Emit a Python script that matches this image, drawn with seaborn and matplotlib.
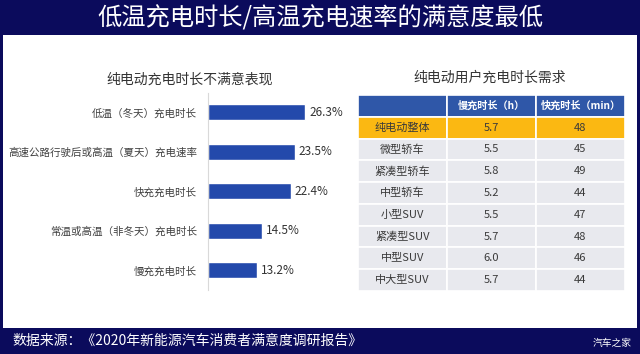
import numpy as np
import pandas as pd
import matplotlib
matplotlib.use('Agg')
import matplotlib.pyplot as plt
import seaborn as sns
from matplotlib.patches import Rectangle

sns.set_theme(style='white')
plt.rcParams['font.family'] = ['Noto Sans CJK SC', 'DejaVu Sans']

# left chart: dissatisfaction with charging time
issues = ['低温（冬天）充电时长', '高速公路行驶后或高温（夏天）充电速率', '快充充电时长',
          '常温或高温（非冬天）充电时长', '慢充充电时长']
shares = [26.3, 23.5, 22.4, 14.5, 13.2]

# right table: charging time demand
car_types = ['纯电动整体', '微型轿车', '紧凑型轿车', '中型轿车', '小型SUV', '紧凑型SUV', '中型SUV', '中大型SUV']
slow_hours = [5.7, 5.5, 5.8, 5.2, 5.5, 5.7, 6.0, 5.7]
fast_minutes = [48, 45, 49, 44, 47, 48, 46, 44]
table_header = ['', '慢充时长（h）', '快充时长（min）']

navy = '#0b0b5c'
bar_blue = '#2349ab'
head_blue = '#2f57a8'
gold = '#fbb812'
cell_grey = '#e8e9ee'

W, H = 640, 354
fig = plt.figure(figsize=(W / 100, H / 100), dpi=100)
fig.patch.set_facecolor(navy)

def fx(px):
    return px / W

def fy(py):
    return 1 - py / H

# white panel
fig.patches.append(Rectangle((fx(3), fy(328)), fx(634), (328 - 35) / H,
                             transform=fig.transFigure, facecolor='white', edgecolor='none', zorder=-1))

fig.text(0.5, fy(19), '低温充电时长/高温充电速率的满意度最低', color='white', fontsize=17.5,
         ha='center', va='center')
fig.text(fx(12), fy(341), '数据来源：《2020年新能源汽车消费者满意度调研报告》', color='white', fontsize=10,
         ha='left', va='center')
fig.text(fx(632), fy(343), '汽车之家', color='white', fontsize=7, ha='right', va='center')

# bar chart
df = pd.DataFrame({'issue': issues, 'share': shares})
ax = fig.add_axes([fx(208), fy(290), fx(3.69 * 35), 197.5 / H])
sns.barplot(data=df, x='share', y='issue', color=bar_blue, width=0.4, saturation=1, ax=ax)
ax.set_xlim(0, 35)
ax.set_ylim(4.5, -0.5)
ax.set_xlabel('')
ax.set_ylabel('')
ax.set_xticks([])
ax.tick_params(axis='y', length=0, labelsize=7.6, labelcolor='#404040', pad=8)
ax.patch.set_alpha(0)
for s in ['top', 'right', 'bottom']:
    ax.spines[s].set_visible(False)
ax.spines['left'].set_color('#d9d9d9')
ax.spines['left'].set_linewidth(0.8)
ax.bar_label(ax.containers[0], labels=[f'{v:.1f}%' for v in shares], padding=3,
             fontsize=8.5, color='#333333')
fig.text(fx(190), fy(80), '纯电动充电时长不满意表现', fontsize=10, color='#333333', ha='center', va='center')

# table
fig.text(fx(490), fy(78), '纯电动用户充电时长需求', fontsize=10, color='#333333', ha='center', va='center')
tax = fig.add_axes([fx(358), fy(291), fx(625 - 358), (291 - 95) / H])
tax.axis('off')
rows = [[c, f'{s:.1f}', f'{f}'] for c, s, f in zip(car_types, slow_hours, fast_minutes)]
colours = [[head_blue] * 3] + [[gold] * 3] + [[cell_grey] * 3 for _ in rows[1:]]
tbl = tax.table(cellText=[table_header] + rows, cellColours=colours, cellLoc='center',
                bbox=[0, 0, 1, 1])
tbl.auto_set_font_size(False)
for (r, c), cell in tbl.get_celld().items():
    cell.set_edgecolor('white')
    cell.set_linewidth(1.2)
    txt = cell.get_text()
    if r == 0:
        txt.set_fontsize(7.3)
        txt.set_color('white')
        txt.set_fontweight('bold')
    else:
        txt.set_fontsize(8)
        txt.set_color('#3a3a3a')

fig.savefig('out.png', dpi=100, facecolor=navy)
